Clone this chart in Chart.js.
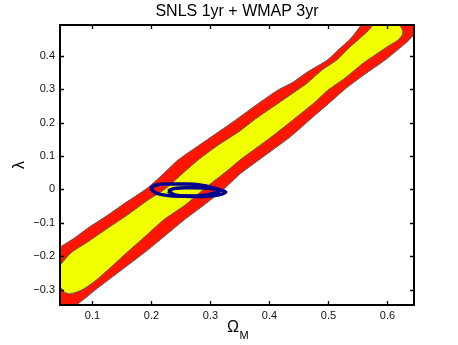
<!DOCTYPE html>
<html>
<head>
<meta charset="utf-8">
<script src="https://cdn.jsdelivr.net/npm/chart.js@4.4.0/dist/chart.umd.min.js"></script>
<style>
  html, body { margin: 0; padding: 0; background: #fff; }
  #wrap { width: 458px; height: 345px; }
</style>
</head>
<body>
<div id="wrap"><canvas id="chart" width="458" height="345"></canvas></div>
<script>
// axis ranges + ticks
const xMin = 0.045, xMax = 0.645;
const yMin = -0.346, yMax = 0.492;
const xTicks = [0.1, 0.2, 0.3, 0.4, 0.5, 0.6];
const xTickLabels = ['0.1', '0.2', '0.3', '0.4', '0.5', '0.6'];
const yTicks = [-0.3, -0.2, -0.1, 0, 0.1, 0.2, 0.3, 0.4];
const yTickLabels = ['\u22120.3', '\u22120.2', '\u22120.1', '0', '0.1', '0.2', '0.3', '0.4'];

// outer contour (red), traced as a closed outline
const redOmega = [0.011, 0.011, 0.045, 0.069, 0.092, 0.126, 0.155, 0.191, 0.218, 0.245, 0.279, 0.311,
  0.343, 0.377, 0.414, 0.440, 0.464, 0.498, 0.520, 0.537, 0.553, 0.564, 0.672, 0.672,
  0.645, 0.635, 0.621, 0.596, 0.562, 0.528, 0.503, 0.472, 0.435, 0.382, 0.350, 0.323,
  0.289, 0.255, 0.218, 0.189, 0.160, 0.133, 0.109, 0.086, 0.074, 0.062, 0.011];
const redLambda = [-0.391, -0.215, -0.173, -0.146, -0.116, -0.077, -0.041, 0.001, 0.043, 0.088, 0.130, 0.169,
  0.208, 0.252, 0.297, 0.321, 0.351, 0.387, 0.423, 0.450, 0.486, 0.513, 0.513, 0.477,
  0.462, 0.444, 0.423, 0.387, 0.345, 0.300, 0.261, 0.214, 0.157, 0.088, 0.046, 0.001,
  -0.047, -0.092, -0.146, -0.188, -0.227, -0.263, -0.295, -0.328, -0.346, -0.391, -0.391];

// inner contour (yellow)
const yellowOmega = [0.020, 0.045, 0.055, 0.065, 0.092, 0.121, 0.159, 0.194, 0.223, 0.248, 0.279, 0.311,
  0.350, 0.374, 0.406, 0.447, 0.464, 0.489, 0.514, 0.531, 0.550, 0.565, 0.574, 0.577,
  0.614, 0.621, 0.626, 0.625, 0.618, 0.599, 0.579, 0.559, 0.528, 0.499, 0.477, 0.440,
  0.401, 0.350, 0.330, 0.289, 0.257, 0.220, 0.186, 0.159, 0.133, 0.104, 0.082, 0.062,
  0.052, 0.045, 0.020, 0.020];
const yellowLambda = [-0.260, -0.227, -0.206, -0.188, -0.157, -0.122, -0.077, -0.032, 0.001, 0.040, 0.088, 0.130,
  0.175, 0.208, 0.247, 0.297, 0.318, 0.357, 0.387, 0.417, 0.447, 0.471, 0.489, 0.513,
  0.513, 0.492, 0.474, 0.462, 0.447, 0.426, 0.402, 0.378, 0.333, 0.297, 0.261, 0.208,
  0.154, 0.088, 0.058, 0.001, -0.047, -0.092, -0.146, -0.188, -0.230, -0.275, -0.301, -0.313,
  -0.307, -0.292, -0.277, -0.260];

// the two blue rings near lambda = 0
const ringAOmega = [0.198, 0.208, 0.231, 0.257, 0.282, 0.304, 0.316, 0.304, 0.282, 0.257, 0.231, 0.208, 0.198];
const ringALambda = [0.003, 0.013, 0.016, 0.016, 0.013, 0.005, -0.003, -0.012, -0.019, -0.020, -0.019, -0.011, 0.003];
const ringBOmega = [0.228, 0.240, 0.265, 0.291, 0.313, 0.326, 0.313, 0.291, 0.265, 0.240, 0.228];
const ringBLambda = [-0.005, 0.003, 0.005, 0.004, 0.000, -0.008, -0.017, -0.021, -0.021, -0.017, -0.005];

const FONT = 'Liberation Sans, Arial, Helvetica, sans-serif';

function toPoints(xs, ys) {
  return xs.map((x, i) => ({ x: x, y: ys[i] }));
}

// MATLAB style box with inward ticks
const framePlugin = {
  id: 'frame',
  afterDatasetsDraw(chart) {
    const { ctx, chartArea: a, scales } = chart;
    ctx.save();
    ctx.strokeStyle = '#000';
    ctx.lineWidth = 1.3;
    ctx.beginPath();
    xTicks.forEach(v => {
      const px = Math.round(scales.x.getPixelForValue(v)) + 0.5;
      ctx.moveTo(px, a.bottom); ctx.lineTo(px, a.bottom - 4);
      ctx.moveTo(px, a.top); ctx.lineTo(px, a.top + 4);
    });
    yTicks.forEach(v => {
      const py = Math.round(scales.y.getPixelForValue(v)) + 0.5;
      ctx.moveTo(a.left, py); ctx.lineTo(a.left + 4, py);
      ctx.moveTo(a.right, py); ctx.lineTo(a.right - 4, py);
    });
    ctx.stroke();
    ctx.lineWidth = 2;
    ctx.strokeRect(a.left, a.top, a.right - a.left, a.bottom - a.top);
    ctx.restore();
  }
};

const textPlugin = {
  id: 'texts',
  afterDraw(chart) {
    const { ctx, chartArea: a } = chart;
    const cx = (a.left + a.right) / 2;
    ctx.save();
    ctx.fillStyle = '#000';
    ctx.textAlign = 'center';
    ctx.textBaseline = 'alphabetic';
    ctx.font = '16px ' + FONT;
    ctx.fillText('SNLS 1yr + WMAP 3yr', cx, 16);

    // y label, rotated
    ctx.save();
    ctx.translate(24, (a.top + a.bottom) / 2);
    ctx.rotate(-Math.PI / 2);
    ctx.fillText('\u03bb', 0, 0);
    ctx.restore();

    // x label with subscript
    ctx.textAlign = 'left';
    ctx.font = '16px ' + FONT;
    ctx.fillText('\u03a9', 227, 332);
    ctx.font = '11px ' + FONT;
    ctx.fillText('M', 239.5, 339);
    ctx.restore();
  }
};

const tickFont = { family: FONT, size: 11 };

new Chart(document.getElementById('chart'), {
  type: 'line',
  data: {
    datasets: [
      { data: toPoints(ringAOmega, ringALambda), borderColor: '#00008c', borderWidth: 3.5, fill: false, tension: 0.4, order: 0 },
      { data: toPoints(ringBOmega, ringBLambda), borderColor: '#00008c', borderWidth: 3.5, fill: false, tension: 0.4, order: 0 },
      { data: toPoints(yellowOmega, yellowLambda), borderColor: '#5c5c5c', borderWidth: 1, backgroundColor: '#f2ff00', fill: 'shape', tension: 0.2, order: 1 },
      { data: toPoints(redOmega, redLambda), borderColor: '#5c5c5c', borderWidth: 1, backgroundColor: '#ff1500', fill: 'shape', tension: 0.2, order: 2 }
    ]
  },
  options: {
    responsive: false,
    animation: false,
    layout: { padding: { left: 0, right: 44, top: 25, bottom: 0 } },
    plugins: { legend: { display: false }, tooltip: { enabled: false } },
    elements: { point: { radius: 0 }, line: { capBezierPoints: false } },
    scales: {
      x: {
        type: 'linear', min: xMin, max: xMax,
        afterBuildTicks: s => { s.ticks = xTicks.map(v => ({ value: v })); },
        afterFit: s => { s.height = 40; },
        grid: { display: false, drawTicks: false },
        border: { display: false },
        ticks: { padding: 4, color: '#111', font: tickFont, autoSkip: false, maxRotation: 0,
          callback: (v, i) => xTickLabels[i] }
      },
      y: {
        type: 'linear', min: yMin, max: yMax,
        afterBuildTicks: s => { s.ticks = yTicks.map(v => ({ value: v })); },
        afterFit: s => { s.width = 60; },
        grid: { display: false, drawTicks: false },
        border: { display: false },
        ticks: { padding: 5, color: '#111', font: tickFont, autoSkip: false,
          callback: (v, i) => yTickLabels[i] }
      }
    }
  },
  plugins: [framePlugin, textPlugin]
});
</script>
</body>
</html>
